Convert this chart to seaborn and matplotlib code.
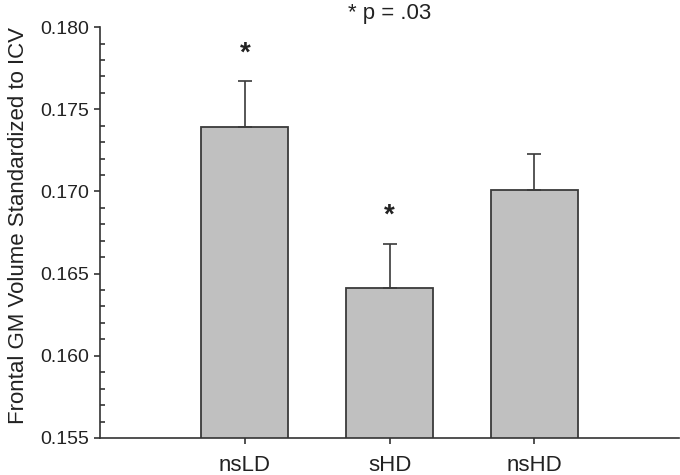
import matplotlib
matplotlib.use("Agg")
import matplotlib.pyplot as plt
import seaborn as sns
import pandas as pd
from matplotlib.ticker import MultipleLocator, FormatStrFormatter

groups = ["nsLD", "sHD", "nsHD"]
means = [0.1739, 0.1641, 0.1701]
sem = [0.0028, 0.0027, 0.0022]
starred = ["nsLD", "sHD"]

sns.set_style("ticks")
plt.rcParams["font.family"] = ["Liberation Sans", "DejaVu Sans"]

df = pd.DataFrame({"group": groups, "value": means})

fig = plt.figure(figsize=(6.8, 4.75), dpi=100)
ax = fig.add_axes([0.147, 0.078, 0.852, 0.865])

sns.barplot(data=df, x="group", y="value", color="#c0c0c0", edgecolor="#3a3a3a",
            linewidth=1.3, width=0.6, saturation=1, errorbar=None, ax=ax)

# только верхние "усы"
ax.errorbar(range(len(groups)), means, yerr=[[0] * len(sem), sem], fmt="none",
            ecolor="#3a3a3a", elinewidth=1.2, capsize=4.7, capthick=1.2, zorder=3)

for i, g in enumerate(groups):
    if g in starred:
        ax.text(i, means[i] + sem[i] + 0.0017, "*", ha="center", va="center",
                fontsize=20, fontweight="bold", color="#222222")

ax.set_xlim(-1, 3)
ax.set_ylim(0.155, 0.180)
ax.yaxis.set_major_locator(MultipleLocator(0.005))
ax.yaxis.set_minor_locator(MultipleLocator(0.001))
ax.yaxis.set_major_formatter(FormatStrFormatter("%.3f"))
ax.tick_params(axis="both", which="major", length=4, width=1.2,
               color="#333333", labelcolor="#222222", direction="out")
ax.tick_params(axis="y", which="major", labelsize=14, pad=4)
ax.tick_params(axis="x", which="major", labelsize=16, pad=8)
ax.tick_params(axis="y", which="minor", length=3.5, width=1.2, color="#333333", direction="in")

sns.despine(ax=ax)
for s in ["left", "bottom"]:
    ax.spines[s].set_color("#333333")
    ax.spines[s].set_linewidth(1.2)

ax.set_xlabel("")
ax.set_ylabel("Frontal GM Volume Standardized to ICV", fontsize=16, color="#222222", labelpad=8)
ax.yaxis.label.set_y(0.518)
ax.set_title("* p = .03", fontsize=16, color="#222222", pad=6)

fig.savefig("out.png", dpi=100)
